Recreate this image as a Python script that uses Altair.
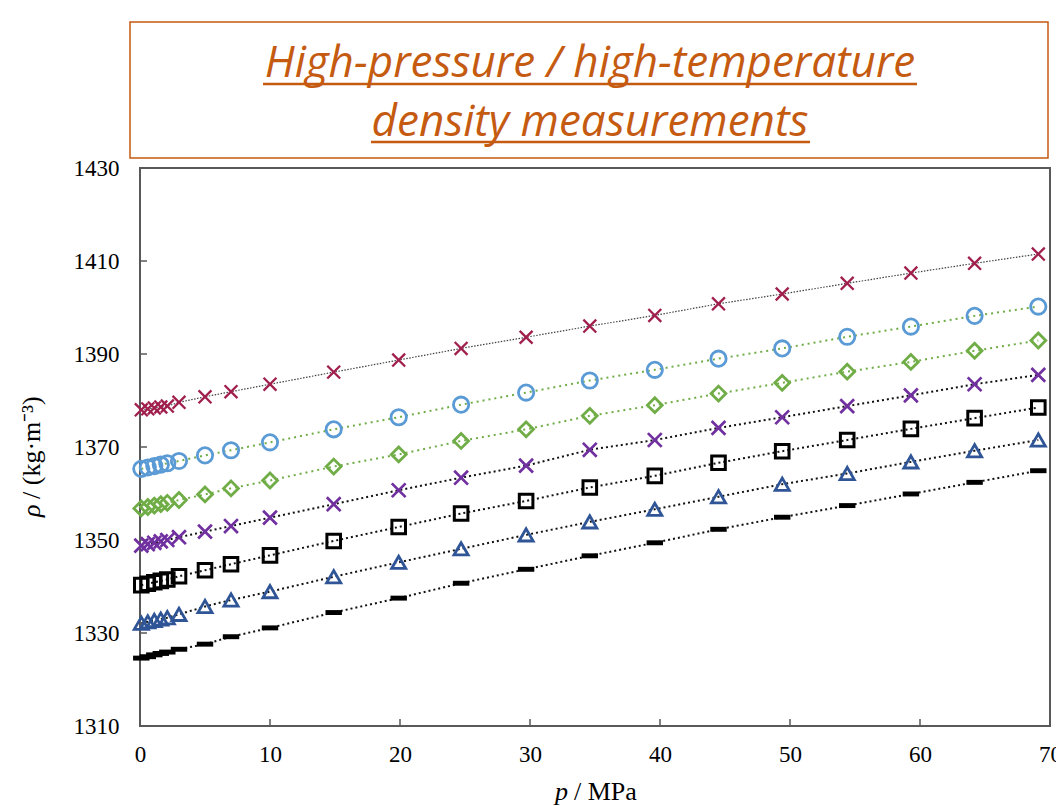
import altair as alt
import pandas as pd

# ---------------- data ----------------
pressure = [0.1, 0.6, 1.1, 1.6, 2.1, 3.0, 5.0, 7.0, 10.0, 14.9, 19.9, 24.7, 29.7,
            34.6, 39.6, 44.5, 49.4, 54.4, 59.3, 64.2, 69.1]

rho_crimson = [1378.0, 1378.2, 1378.4, 1378.6, 1378.8, 1379.6, 1380.8, 1381.9, 1383.5,
               1386.1, 1388.7, 1391.2, 1393.6, 1396.0, 1398.3, 1400.8, 1402.9, 1405.2,
               1407.4, 1409.5, 1411.5]
rho_circle = [1365.3, 1365.6, 1365.9, 1366.2, 1366.5, 1367.0, 1368.2, 1369.3, 1371.0,
              1373.8, 1376.4, 1379.1, 1381.7, 1384.3, 1386.6, 1389.0, 1391.2, 1393.7,
              1395.9, 1398.2, 1400.2]
rho_diamond = [1356.8, 1357.1, 1357.4, 1357.7, 1358.0, 1358.6, 1359.8, 1361.1, 1362.8,
               1365.8, 1368.4, 1371.3, 1373.8, 1376.7, 1379.0, 1381.5, 1383.8, 1386.2,
               1388.3, 1390.7, 1392.9]
rho_purple = [1348.8, 1349.1, 1349.4, 1349.7, 1350.0, 1350.6, 1351.8, 1353.0, 1354.8,
              1357.7, 1360.7, 1363.4, 1366.0, 1369.4, 1371.5, 1374.1, 1376.4, 1378.8,
              1381.1, 1383.5, 1385.5]
rho_square = [1340.3, 1340.6, 1340.9, 1341.2, 1341.5, 1342.2, 1343.5, 1344.8, 1346.7,
              1349.8, 1352.8, 1355.7, 1358.4, 1361.3, 1363.8, 1366.6, 1369.1, 1371.5,
              1373.9, 1376.2, 1378.5]
rho_triangle = [1332.1, 1332.4, 1332.7, 1333.0, 1333.3, 1334.0, 1335.7, 1337.1, 1338.9,
                1342.1, 1345.2, 1348.1, 1351.1, 1353.9, 1356.6, 1359.3, 1362.0, 1364.3,
                1366.8, 1369.2, 1371.5]
rho_dash = [1324.6, 1324.9, 1325.3, 1325.6, 1325.9, 1326.5, 1327.6, 1329.2, 1331.1,
            1334.4, 1337.5, 1340.7, 1343.7, 1346.6, 1349.4, 1352.3, 1354.9, 1357.4,
            1359.9, 1362.4, 1364.9]

x_ticks = [0, 10, 20, 30, 40, 50, 60, 70]
y_ticks = [1310, 1330, 1350, 1370, 1390, 1410, 1430]
title_lines = ["High-pressure / high-temperature", "density measurements"]
x_title = ["p", "/ MPa"]
y_title = ["ρ", "/ (kg·m⁻³)"]

# ---------------- styles ----------------
W, H = 910, 558
SERIF = "Liberation Serif"
ORANGE = "#c55a11"
FRAME = "#595959"
XPATH = "M-1,-1L1,1M-1,1L1,-1"
DASHPATH = "M-1,-0.3L1,-0.3L1,0.3L-1,0.3Z"

X = alt.X("p:Q", scale=alt.Scale(domain=[0, 70], nice=False, zero=False),
          axis=alt.Axis(values=x_ticks, ticks=False, domain=False, grid=False,
                        labelFont=SERIF, labelFontSize=23, labelColor="black",
                        labelPadding=17, labelFlush=False, labelOverlap=False,
                        format="d", title=None))
Y = alt.Y("rho:Q", scale=alt.Scale(domain=[1310, 1430], nice=False, zero=False),
          axis=alt.Axis(values=y_ticks, ticks=False, domain=False, grid=False,
                        labelFont=SERIF, labelFontSize=23, labelColor="black",
                        labelPadding=21, labelOverlap=False, format="d", title=None))

series = [
    # values, color, shape, size, strokeWidth, filled, line color, dash, line width
    (rho_crimson, "#a01f4d", XPATH, 165, 2.3, False, "#404040", [1.5, 1.5], 1.2),
    (rho_circle, "#5b9bd5", "circle", 235, 2.8, False, "#70ad47", [2, 4], 2),
    (rho_diamond, "#70ad47", "diamond", 220, 2.8, False, "#70ad47", [2, 4], 2),
    (rho_purple, "#7030a0", XPATH, 190, 2.7, False, "#111111", [2, 3], 2),
    (rho_square, "#000000", "square", 185, 3.0, False, "#111111", [2, 3], 2),
    (rho_triangle, "#2f5597", "triangle-up", 200, 2.8, False, "#111111", [2, 3], 2),
    (rho_dash, "#000000", DASHPATH, 270, 0, True, "#111111", [2, 3], 2),
]

layers = []
# inward tick marks
layers.append(alt.Chart(pd.DataFrame({"rho": y_ticks})).mark_rule(
    color=FRAME, strokeWidth=1.5).encode(y=Y, x=alt.value(0), x2=alt.value(7)))
layers.append(alt.Chart(pd.DataFrame({"p": x_ticks})).mark_rule(
    color=FRAME, strokeWidth=1.5).encode(x=X, y=alt.value(H), y2=alt.value(H - 7)))

for vals, col, shp, sz, sw, filled, lcol, dash, lw in series:
    df = pd.DataFrame({"p": pressure, "rho": vals})
    base = alt.Chart(df)
    layers.append(base.mark_line(color=lcol, strokeDash=dash, strokeWidth=lw).encode(x=X, y=Y))
    if filled:
        pts = base.mark_point(shape=shp, size=sz, filled=True, color=col, opacity=1,
                              strokeWidth=0)
    else:
        pts = base.mark_point(shape=shp, size=sz, filled=False, color=col, opacity=1,
                              strokeWidth=sw)
    layers.append(pts.encode(x=X, y=Y))

# title box
one = pd.DataFrame({"k": [0]})
layers.append(alt.Chart(one).mark_rect(fill="white", stroke=ORANGE, strokeWidth=1.5).encode(
    x=alt.value(-10), x2=alt.value(908), y=alt.value(-146), y2=alt.value(-10)))

for line_text, base_y in zip(title_lines, [-91, -32]):
    layers.append(alt.Chart(pd.DataFrame({"t": [line_text]})).mark_text(
        font="Open Sans", fontStyle="italic", fontSize=44, color=ORANGE,
        align="center", baseline="alphabetic").encode(
        text="t:N", x=alt.value(450), y=alt.value(base_y)))
# underlines
layers.append(alt.Chart(one).mark_rule(color=ORANGE, strokeWidth=2.5).encode(
    x=alt.value(123), x2=alt.value(777), y=alt.value(-84)))
layers.append(alt.Chart(one).mark_rule(color=ORANGE, strokeWidth=2.5).encode(
    x=alt.value(231), x2=alt.value(670), y=alt.value(-26)))

# axis titles with mixed italic
layers.append(alt.Chart(pd.DataFrame({"t": [x_title[0]]})).mark_text(
    font=SERIF, fontStyle="italic", fontSize=26, align="right", baseline="alphabetic",
    color="black").encode(text="t:N", x=alt.value(428), y=alt.value(632)))
layers.append(alt.Chart(pd.DataFrame({"t": [x_title[1]]})).mark_text(
    font=SERIF, fontSize=26, align="left", baseline="alphabetic",
    color="black").encode(text="t:N", x=alt.value(434), y=alt.value(632)))
layers.append(alt.Chart(pd.DataFrame({"t": [y_title[0]]})).mark_text(
    font=SERIF, fontStyle="italic", fontSize=26, align="left", baseline="middle", angle=270,
    color="black").encode(text="t:N", x=alt.value(-108), y=alt.value(349)))
layers.append(alt.Chart(pd.DataFrame({"t": [y_title[1]]})).mark_text(
    font=SERIF, fontSize=26, align="left", baseline="middle", angle=270,
    color="black").encode(text="t:N", x=alt.value(-108), y=alt.value(331)))

chart = alt.layer(*layers).properties(
    width=W, height=H,
    autosize=alt.AutoSizeParams(type="none"),
    padding={"left": 140, "top": 168, "right": 6, "bottom": 80},
    background="white",
).configure_view(stroke=FRAME, strokeWidth=2)

chart.save("out.html", embed_options={"renderer": "svg", "actions": False})
